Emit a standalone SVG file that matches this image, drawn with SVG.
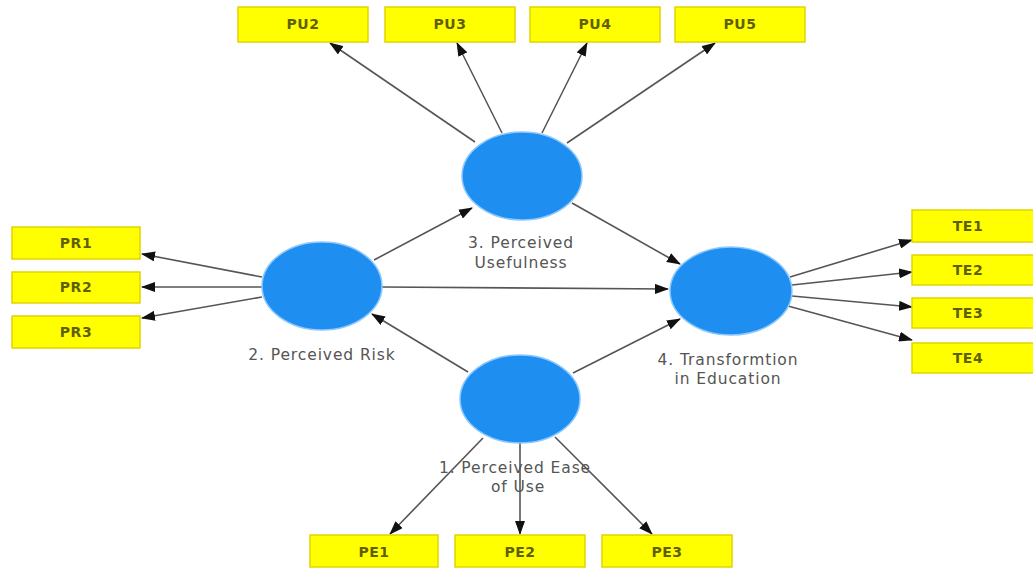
<svg xmlns="http://www.w3.org/2000/svg" width="1033" height="568" viewBox="0 0 1033 568">
<style>
.box{fill:#FFFF00;stroke:#E2D400;stroke-width:1.5}
.bt{font-family:"DejaVu Sans",sans-serif;font-size:14px;font-weight:bold;letter-spacing:0.5px;fill:#5f5f00;text-anchor:middle}
.lv{fill:#1E8EF0;stroke:#8CC8FF;stroke-width:1.5}
.lt{font-family:"DejaVu Sans",sans-serif;font-size:15.5px;letter-spacing:0.9px;fill:#555;text-anchor:middle}
.c{stroke:#555;stroke-width:1.6;fill:none;marker-end:url(#ah)}
</style>
<defs>
<marker id="ah" markerUnits="userSpaceOnUse" markerWidth="14" markerHeight="10" viewBox="0 0 14 10" refX="13" refY="5" orient="auto">
<path d="M0,0 L14,5 L0,10 Z" fill="#111"/>
</marker>
</defs>
<rect width="1033" height="568" fill="#fff"/>
<g id="connectors">
<line class="c" x1="262" y1="277" x2="142" y2="254"/>
<line class="c" x1="262" y1="287" x2="142" y2="287"/>
<line class="c" x1="262" y1="297" x2="142" y2="318"/>
<line class="c" x1="475" y1="142" x2="330" y2="43"/>
<line class="c" x1="502" y1="133" x2="457" y2="43"/>
<line class="c" x1="542" y1="133" x2="587" y2="43"/>
<line class="c" x1="567" y1="143" x2="715" y2="43"/>
<line class="c" x1="790" y1="277" x2="912" y2="240"/>
<line class="c" x1="792" y1="285" x2="912" y2="272"/>
<line class="c" x1="792" y1="296" x2="912" y2="307"/>
<line class="c" x1="788" y1="306" x2="912" y2="340"/>
<line class="c" x1="483" y1="438" x2="390" y2="534"/>
<line class="c" x1="520" y1="443" x2="520" y2="534"/>
<line class="c" x1="555" y1="437" x2="652" y2="534"/>
<line class="c" x1="374" y1="260" x2="472" y2="208"/>
<line class="c" x1="572" y1="203" x2="680" y2="264"/>
<line class="c" x1="382" y1="287" x2="668" y2="289"/>
<line class="c" x1="468" y1="372" x2="372" y2="314"/>
<line class="c" x1="573" y1="373" x2="680" y2="319"/>
</g>
<g id="PU2"><rect class="box" x="238" y="7" width="130" height="35"/><text class="bt" x="303" y="29">PU2</text></g>
<g id="PU3"><rect class="box" x="385" y="7" width="130" height="35"/><text class="bt" x="450" y="29">PU3</text></g>
<g id="PU4"><rect class="box" x="530" y="7" width="130" height="35"/><text class="bt" x="595" y="29">PU4</text></g>
<g id="PU5"><rect class="box" x="675" y="7" width="130" height="35"/><text class="bt" x="740" y="29">PU5</text></g>
<g id="PR1"><rect class="box" x="12" y="227" width="128" height="32"/><text class="bt" x="76" y="248">PR1</text></g>
<g id="PR2"><rect class="box" x="12" y="272" width="128" height="31"/><text class="bt" x="76" y="292">PR2</text></g>
<g id="PR3"><rect class="box" x="12" y="316" width="128" height="32"/><text class="bt" x="76" y="337">PR3</text></g>
<g id="TE1"><rect class="box" x="912" y="210" width="128" height="32"/><text class="bt" x="968" y="231">TE1</text></g>
<g id="TE2"><rect class="box" x="912" y="255" width="128" height="30"/><text class="bt" x="968" y="275">TE2</text></g>
<g id="TE3"><rect class="box" x="912" y="298" width="128" height="30"/><text class="bt" x="968" y="318">TE3</text></g>
<g id="TE4"><rect class="box" x="912" y="343" width="128" height="30"/><text class="bt" x="968" y="363">TE4</text></g>
<g id="PE1"><rect class="box" x="310" y="535" width="128" height="32"/><text class="bt" x="374" y="557">PE1</text></g>
<g id="PE2"><rect class="box" x="455" y="535" width="130" height="32"/><text class="bt" x="520" y="557">PE2</text></g>
<g id="PE3"><rect class="box" x="602" y="535" width="130" height="32"/><text class="bt" x="667" y="557">PE3</text></g>
<g id="PU"><ellipse class="lv" cx="522" cy="176" rx="60" ry="44"/><text class="lt" x="521" y="248">3. Perceived</text><text class="lt" x="521" y="268">Usefulness</text></g>
<g id="PR"><ellipse class="lv" cx="322" cy="286" rx="60" ry="44"/><text class="lt" x="322" y="360">2. Perceived Risk</text></g>
<g id="TE"><ellipse class="lv" cx="731" cy="291" rx="61" ry="44"/><text class="lt" x="728" y="365">4. Transformtion</text><text class="lt" x="728" y="384">in Education</text></g>
<g id="PE"><ellipse class="lv" cx="520" cy="399" rx="60" ry="44"/><text class="lt" x="515" y="473">1. Perceived Ease</text><text class="lt" x="518" y="492">of Use</text></g>
</svg>
